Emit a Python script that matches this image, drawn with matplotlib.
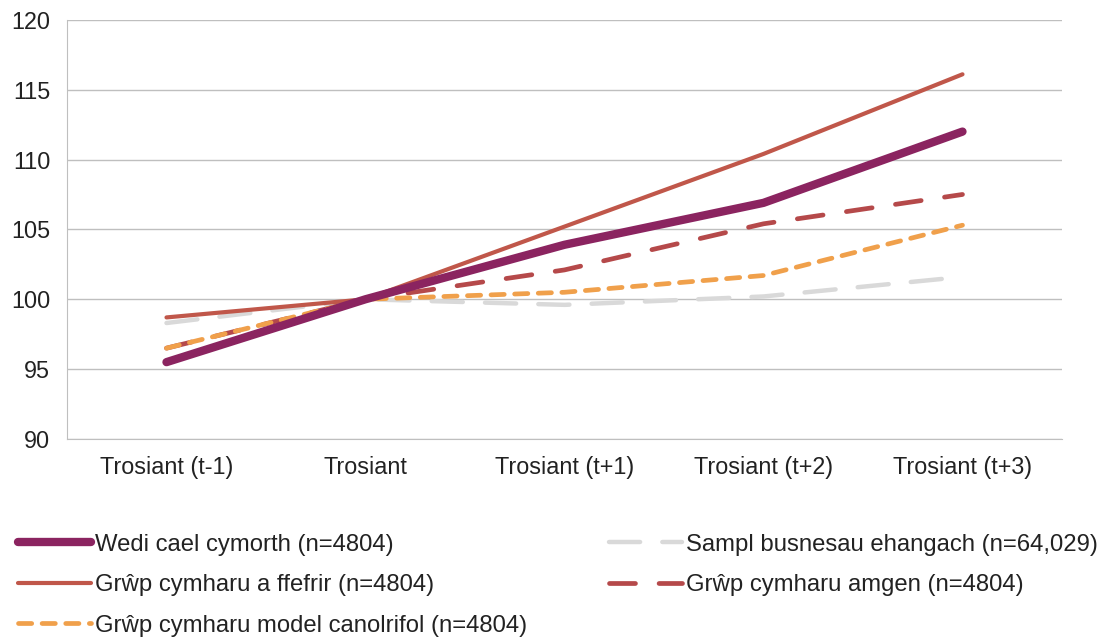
import matplotlib
matplotlib.use("Agg")
import matplotlib.pyplot as plt

plt.rcParams['font.family'] = ['Liberation Sans', 'DejaVu Sans']

categories = ["Trosiant (t-1)", "Trosiant", "Trosiant (t+1)", "Trosiant (t+2)", "Trosiant (t+3)"]
wedi = [95.5, 100, 103.9, 106.9, 112.0]
ffefrir = [98.7, 100, 105.2, 110.4, 116.1]
canolrifol = [96.5, 100, 100.5, 101.7, 105.3]
sampl = [98.3, 100, 99.6, 100.2, 101.6]
amgen = [96.5, 100, 102.1, 105.4, 107.5]

labels = ["Wedi cael cymorth (n=4804)", "Grŵp cymharu a ffefrir (n=4804)",
          "Grŵp cymharu model canolrifol (n=4804)", "Sampl busnesau ehangach (n=64,029)",
          "Grŵp cymharu amgen (n=4804)"]

FS = 16.8
LFS = 17.2

fig = plt.figure(figsize=(11.09, 6.39), dpi=100)
ax = fig.add_axes([0.0604, 0.313, 0.8972, 0.656])
x = list(range(len(categories)))

l_sampl, = ax.plot(x, sampl, color='#D9D9D9', lw=3.2, ls=(0, (7, 5)), solid_capstyle='round', dash_capstyle='round', zorder=2)
l_amgen, = ax.plot(x, amgen, color='#B5494A', lw=3.4, ls=(0, (5.5, 5)), dash_capstyle='round', zorder=3)
l_can, = ax.plot(x, canolrifol, color='#F0A04B', lw=3.4, ls=(0, (2.8, 2.2)), dash_capstyle='round', zorder=4)
l_ffe, = ax.plot(x, ffefrir, color='#C0574A', lw=3.0, solid_capstyle='round', zorder=5)
l_wedi, = ax.plot(x, wedi, color='#8B2460', lw=6.0, solid_capstyle='round', zorder=6)

ax.set_ylim(90, 120)
ax.set_yticks(range(90, 121, 5))
ax.set_xlim(-0.5, 4.5)
ax.set_xticks(x)
ax.set_xticklabels(categories, fontsize=FS, color='#222222')
ax.tick_params(axis='y', labelsize=FS, colors='#222222', length=0, pad=12)
ax.tick_params(axis='x', length=0, pad=12)
ax.yaxis.grid(True, color='#BFBFBF', lw=1)
ax.set_axisbelow(True)
for s in ['top', 'right']:
    ax.spines[s].set_visible(False)
ax.spines['left'].set_color('#BFBFBF')
ax.spines['bottom'].set_color('#BFBFBF')

handles = [l_wedi, l_ffe, l_can, l_sampl, l_amgen]
leg = fig.legend(handles, labels, ncol=2, loc='upper left', bbox_to_anchor=(0.016, 0.165),
                 frameon=False, fontsize=LFS, handlelength=3.05, handletextpad=0.2,
                 columnspacing=3.4, labelspacing=0.78, borderpad=0, borderaxespad=0)
for t in leg.get_texts():
    t.set_color('#222222')

fig.savefig("out.png", dpi=100)
